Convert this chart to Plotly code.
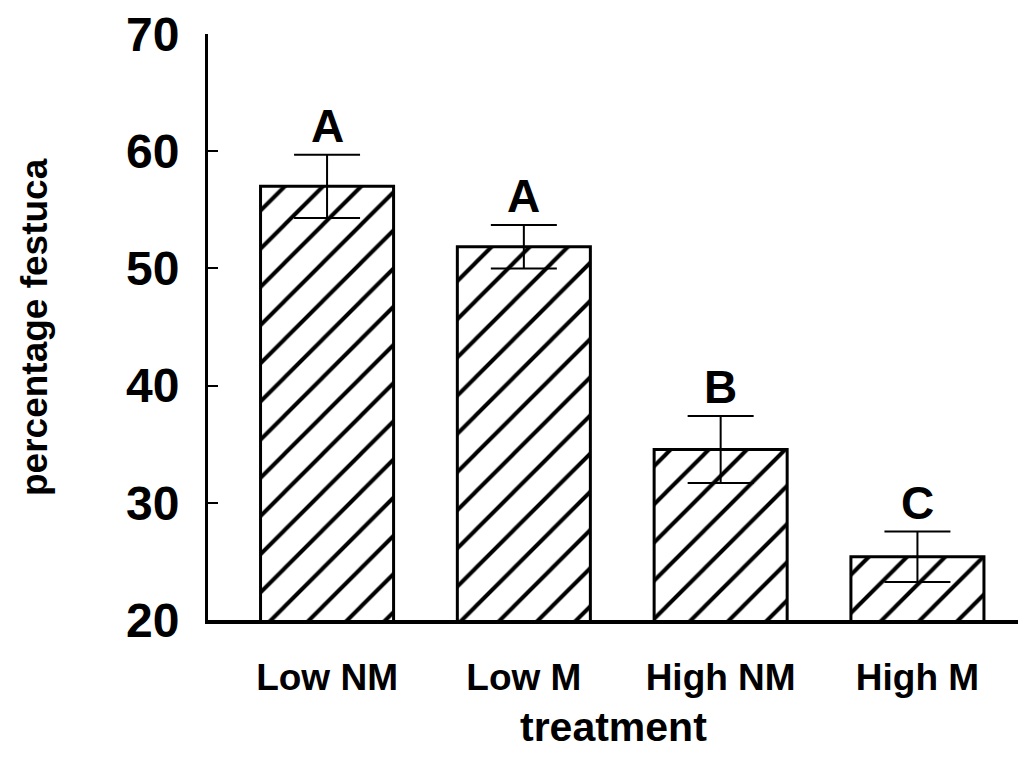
import plotly.graph_objects as go

categories = ["Low NM", "Low M", "High NM", "High M"]
means = [57.0, 51.85, 34.55, 25.4]
errors = [2.7, 1.85, 2.85, 2.15]
letters = ["A", "A", "B", "C"]
y_ticks = [20, 30, 40, 50, 60, 70]

FONT = "Liberation Sans, Arial, Helvetica, sans-serif"

fig = go.Figure()
fig.add_trace(go.Bar(
    x=categories,
    y=means,
    width=0.676,
    marker=dict(
        color="white",
        line=dict(color="black", width=3),
        pattern=dict(shape="/", fgcolor="black", bgcolor="white", fgopacity=1,
                     fillmode="replace", size=27, solidity=0.15),
    ),
    error_y=dict(type="data", array=errors, visible=True, color="black", thickness=2, width=33),
    showlegend=False,
))

for c, m, e, t in zip(categories, means, errors, letters):
    fig.add_annotation(x=c, y=m + e, text=t, showarrow=False, xanchor="center", yanchor="bottom",
                       yshift=1, font=dict(family=FONT, size=46, color="black", weight="bold"))

fig.add_annotation(xref="paper", yref="paper", x=0.5, y=-130 / 590, text="treatment", showarrow=False,
                   xanchor="center", yanchor="bottom", yshift=-3,
                   font=dict(family=FONT, size=41, color="black", weight="bold"))
fig.add_annotation(xref="paper", yref="paper", x=-174 / 810, y=0.5, text="percentage festuca", showarrow=False,
                   textangle=-90, xanchor="center", yanchor="middle",
                   font=dict(family=FONT, size=37, color="black", weight="bold"))

fig.update_layout(
    width=1010, height=742,
    margin=dict(l=200, r=0, t=22, b=130),
    paper_bgcolor="white", plot_bgcolor="white",
    bargap=0.3,
    xaxis=dict(
        type="category", range=[-0.605, 3.511],
        showline=True, linecolor="black", linewidth=4,
        showgrid=False, zeroline=False, ticks="",
        tickfont=dict(family=FONT, size=37, color="black", weight="bold"),
        ticklabelstandoff=22,
    ),
    yaxis=dict(
        range=[20, 70], tickvals=y_ticks,
        showline=True, linecolor="black", linewidth=3,
        showgrid=False, zeroline=False,
        ticks="inside", ticklen=10, tickwidth=2, tickcolor="black",
        tickfont=dict(family=FONT, size=48, color="black", weight="bold"),
        ticklabelstandoff=16, ticklabeloverflow="allow",
    ),
)

fig.write_html("out.html")
